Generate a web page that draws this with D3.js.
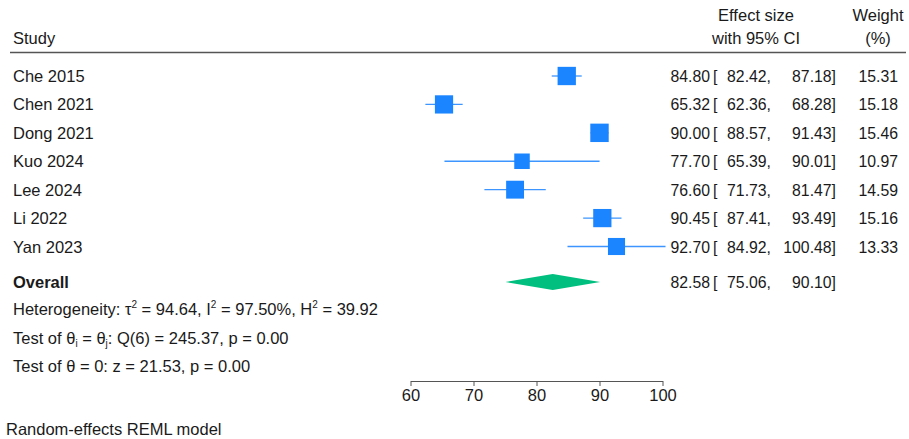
<!DOCTYPE html>
<html><head><meta charset="utf-8">
<script src="https://cdn.jsdelivr.net/npm/d3@7"></script>
<style>body{margin:0;background:#fff}svg{display:block}text{font-family:"Liberation Sans",Arial,sans-serif;fill:#1a1a1a}</style>
</head><body><svg id="c" width="909" height="439"></svg>
<script>
const studies = ["Che 2015","Chen 2021","Dong 2021","Kuo 2024","Lee 2024","Li 2022","Yan 2023"];
const effect = [84.80,65.32,90.00,77.70,76.60,90.45,92.70];
const lower = [82.42,62.36,88.57,65.39,71.73,87.41,84.92];
const upper = [87.18,68.28,91.43,90.01,81.47,93.49,100.48];
const weight = [15.31,15.18,15.46,10.97,14.59,15.16,13.33];
const overall = {es:82.58, lo:75.06, hi:90.10};
const xTicks = [60,70,80,90,100];

const svg = d3.select("#c");
const fsW = 16.5, fsN = 15.8;
const x = d3.scaleLinear().domain([60,100]).range([410.5,662.5]);
const y = d3.scaleLinear().domain([0,6]).range([76,246.5]);
const sz = d3.scaleSqrt().domain([0,d3.max(weight)]).range([0,18.4]);
const f2 = d3.format(".2f");
const off = 6;

function txt(xp,yp,s,anchor,fs,bold){
  return svg.append("text").attr("x",xp).attr("y",yp).attr("font-size",fs||fsW)
    .attr("text-anchor",anchor||"start").attr("font-weight",bold?"bold":"normal").text(s);
}
// headers
txt(756,21,"Effect size","middle");
txt(756,44,"with 95% CI","middle");
txt(878,21,"Weight","middle");
txt(878,44,"(%)","middle");
txt(13,44,"Study");
svg.append("line").attr("x1",10).attr("x2",906).attr("y1",52.5).attr("y2",52.5).attr("stroke","#555").attr("stroke-width",1.6);

function ciText(yy,es,lo,hi){
  txt(710,yy+off,f2(es),"end",fsN);
  txt(713,yy+off,"[",null,fsN);
  txt(771,yy+off,f2(lo)+",","end",fsN);
  txt(836,yy+off,f2(hi)+"]","end",fsN);
}
// rows
studies.forEach((s,i)=>{
  const yy=y(i);
  txt(13,yy+off,s);
  svg.append("line").attr("x1",x(lower[i])).attr("x2",x(upper[i])).attr("y1",yy).attr("y2",yy)
    .attr("stroke","#3d95ff").attr("stroke-width",1.3);
  const w=sz(weight[i]);
  svg.append("rect").attr("x",x(effect[i])-w/2).attr("y",yy-w/2).attr("width",w).attr("height",w).attr("fill","#1a85ff");
  ciText(yy,effect[i],lower[i],upper[i]);
  txt(898,yy+off,f2(weight[i]),"end",fsN);
});

// overall
const yo=282;
txt(13,yo+off,"Overall","start",fsW,true);
svg.append("path").attr("d",`M${x(overall.lo)},${yo}L${x(overall.es)},${yo-8}L${x(overall.hi)},${yo}L${x(overall.es)},${yo+8}Z`).attr("fill","#00bf7f");
ciText(yo,overall.es,overall.lo,overall.hi);

// stats
function rich(xp,yp,parts){
  const t=svg.append("text").attr("x",xp).attr("y",yp).attr("font-size",fsW);
  let pend=0;
  parts.forEach(p=>{
    if(typeof p==="string"){ t.append("tspan").attr("dy",pend).text(p); pend=0; }
    else if(p.sup){ t.append("tspan").attr("font-size",10).attr("dy",pend-7).text(p.sup); pend=7; }
    else if(p.sub){ t.append("tspan").attr("font-size",10).attr("dy",pend+3).text(p.sub); pend=-3; }
  });
}
rich(13,309+off,["Heterogeneity: τ",{sup:"2"}," = 94.64, I",{sup:"2"}," = 97.50%, H",{sup:"2"}," = 39.92"]);
rich(13,338+off,["Test of θ",{sub:"i"}," = θ",{sub:"j"},": Q(6) = 245.37, p = 0.00"]);
rich(13,366+off,["Test of θ = 0: z = 21.53, p = 0.00"]);

// axis
const ax = svg.append("g").attr("transform","translate(0,381)")
  .call(d3.axisBottom(x).tickValues(xTicks).tickSize(5).tickSizeOuter(0).tickPadding(3));
ax.select(".domain").attr("stroke","#555");
ax.selectAll(".tick line").attr("stroke","#555");
ax.selectAll(".tick text").attr("font-size",16.5).attr("font-family","Liberation Sans, Arial, sans-serif").attr("fill","#1a1a1a");

txt(6,435,"Random-effects REML model");
</script></body></html>
